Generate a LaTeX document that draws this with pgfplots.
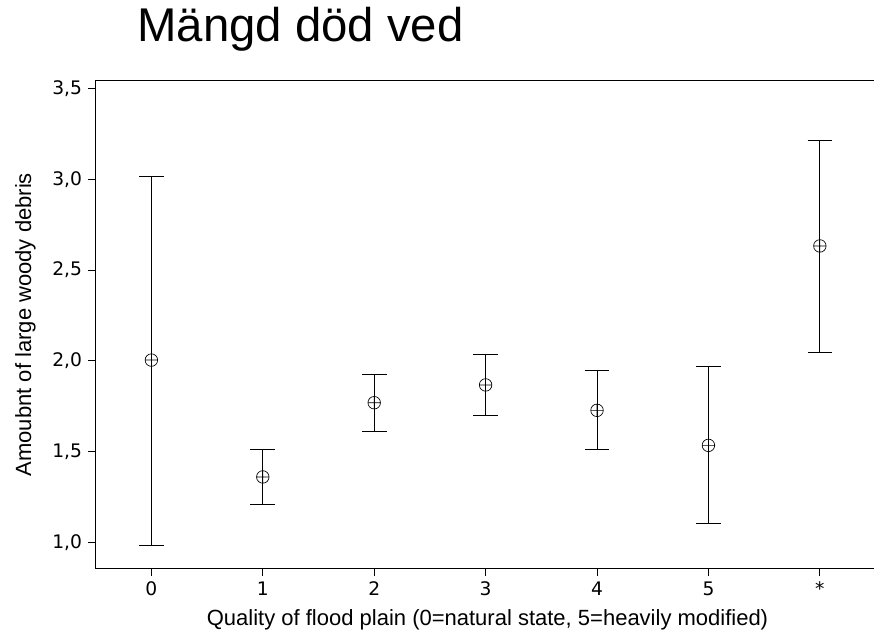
\documentclass[border=0pt]{standalone}
\usepackage{fontspec}
\setmainfont{Liberation Sans}
\newfontfamily\tickfont{DejaVu Sans}
\usepackage{pgfplots}
\pgfplotsset{compat=1.18}
\begin{document}
\begin{tikzpicture}
\begin{axis}[
  name=ax,
  scale only axis,
  width=588.75pt, height=366.5pt,
  xmin=-0.506, xmax=6.54,
  ymin=0.853, ymax=3.546,
  axis line style={line width=0.75pt},
  tick style={line width=0.75pt, black},
  tick align=outside,
  major tick length=5.25pt,
  xtick={0,1,2,3,4,5,6},
  xticklabels={0,1,2,3,4,5,*},
  ytick={1,1.5,2,2.5,3,3.5},
  yticklabels={{1,0},{1,5},{2,0},{2,5},{3,0},{3,5}},
  xtick pos=bottom, ytick pos=left,
  tick label style={font=\tickfont\fontsize{14pt}{16pt}\selectfont},
  yticklabel style={xshift=-1pt},
  xticklabel style={yshift=-1pt},
  label style={font=\fontsize{16.5pt}{19pt}\selectfont},
  xlabel={Quality of flood plain (0=natural state, 5=heavily modified)},
  xlabel style={at={(axis description cs:0.5,-0.1167)}, anchor=base},
  ylabel={Amoubnt of large woody debris},
  ylabel style={at={(axis description cs:-0.0815,0.5)}, anchor=base},
]
\addplot+[black, only marks, mark=oplus, mark size=4.7pt,
  mark options={line width=0.5pt, fill=none, draw=black},
  error bars/.cd, y dir=both, y explicit,
  error bar style={line width=0.75pt, black},
  error mark options={rotate=90, mark size=9.25pt, line width=0.75pt, black}]
  table[x=x, y=y, y error plus=ep, y error minus=em] {
x y ep em
0 2.004 1.014 1.024
1 1.360 0.149 0.154
2 1.769 0.153 0.161
3 1.867 0.169 0.171
4 1.727 0.221 0.218
5 1.534 0.437 0.433
6 2.633 0.582 0.585
};
\end{axis}
\node[anchor=base west, inner sep=0pt, font=\fontsize{35.5pt}{41pt}\selectfont]
  at ([xshift=31.5pt, yshift=28.7pt]ax.north west) {Mängd död ved};
\pgfresetboundingbox
\path[use as bounding box] ([xshift=-71.25pt, yshift=-47.25pt]ax.south west) rectangle ([xshift=-4.5pt, yshift=60.2pt]ax.north east);
\end{tikzpicture}
\end{document}
